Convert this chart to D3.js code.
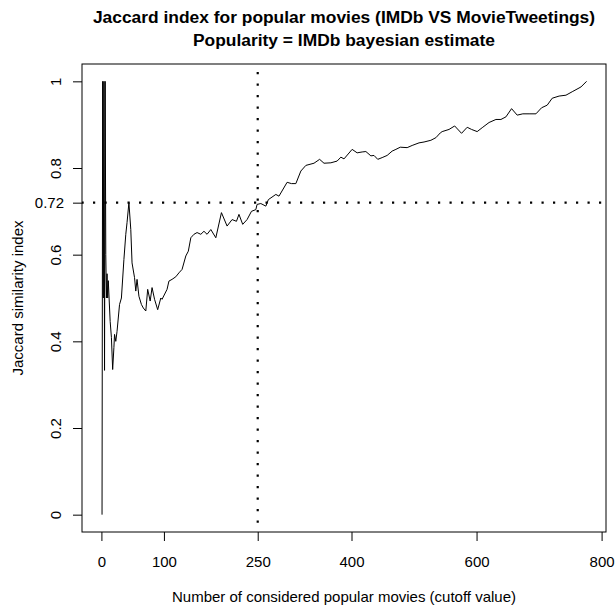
<!DOCTYPE html>
<html>
<head>
<meta charset="utf-8">
<script src="https://cdn.jsdelivr.net/npm/d3@7"></script>
<style>
	body { margin: 0; background: #fff; }
	svg text { font-family: "Liberation Sans", Arial, Helvetica, sans-serif; fill: #000; }
</style>
</head>
<body>
<svg width="615" height="606"></svg>
<script>
// Cutoff values (number of popular movies considered)
var cutoffs = [
	1, 2, 3, 4, 5, 6, 7, 8, 9, 10, 11, 14, 16, 18, 20, 21, 23, 25, 29, 32,
	36, 39, 41, 44, 47, 49, 53, 55, 57, 60, 64, 67, 71, 74, 78, 81, 85, 90, 95, 97,
	105, 108, 113, 119, 124, 129, 135, 139, 143, 148, 153, 159, 164, 169, 175, 183, 192, 201, 209, 216,
	220, 226, 233, 240, 247, 249, 255, 263, 267, 279, 284, 297, 304, 311, 319, 327, 340, 349, 356, 367,
	377, 383, 388, 401, 409, 417, 423, 431, 436, 442, 449, 457, 465, 471, 478, 489, 497, 508, 516, 527,
	535, 542, 545, 556, 565, 576, 585, 592, 601, 609, 620, 631, 639, 647, 656, 665, 674, 684, 695, 704,
	713, 721, 732, 743, 753, 767, 776
];
// Jaccard similarity index at each cutoff
var jaccard = [
	0, 1, 0.5, 1, 0.333, 1, 0.6, 0.5, 0.556, 0.5, 0.54, 0.446, 0.409, 0.335, 0.386, 0.416, 0.4, 0.423, 0.485, 0.5,
	0.589, 0.647, 0.674, 0.72, 0.658, 0.581, 0.547, 0.516, 0.543, 0.504, 0.485, 0.477, 0.47, 0.52, 0.493, 0.524, 0.497, 0.473, 0.5, 0.497,
	0.52, 0.539, 0.543, 0.549, 0.558, 0.566, 0.597, 0.608, 0.639, 0.647, 0.651, 0.647, 0.654, 0.647, 0.658, 0.639, 0.697, 0.666, 0.681, 0.677,
	0.693, 0.67, 0.681, 0.7, 0.704, 0.716, 0.718, 0.712, 0.727, 0.739, 0.735, 0.767, 0.764, 0.764, 0.793, 0.806, 0.811, 0.82, 0.811, 0.812,
	0.816, 0.825, 0.821, 0.843, 0.835, 0.837, 0.838, 0.828, 0.829, 0.82, 0.824, 0.829, 0.839, 0.843, 0.848, 0.847, 0.852, 0.858, 0.86, 0.864,
	0.87, 0.881, 0.884, 0.889, 0.897, 0.88, 0.894, 0.889, 0.884, 0.893, 0.905, 0.912, 0.912, 0.918, 0.937, 0.922, 0.925, 0.925, 0.925, 0.939,
	0.945, 0.961, 0.966, 0.968, 0.976, 0.987, 1
];
var x_ticks = [0, 100, 250, 400, 600, 800];
var y_ticks = [0, 0.2, 0.4, 0.6, 0.8, 1];
var cutoff_mark = 250;
var jaccard_mark = 0.72;

var title_lines = ['Jaccard index for popular movies (IMDb VS MovieTweetings)', 'Popularity = IMDb bayesian estimate'];
var x_title = 'Number of considered popular movies (cutoff value)';
var y_title = 'Jaccard similarity index';

// Plot region
var plot_left = 82, plot_right = 606, plot_top = 64, plot_bottom = 532;
var tick_len = 9;
var font_size = 15;
var title_size = 17.4;

var svg = d3.select('svg');

// R style axis extension (4% on each side)
function extend(ext)
{
	var r = ext[1] - ext[0];
	return [ext[0] - 0.04 * r, ext[1] + 0.04 * r];
}
var x = d3.scaleLinear().domain(extend([0, d3.max(cutoffs)])).range([plot_left, plot_right]);
var y = d3.scaleLinear().domain(extend([0, 1])).range([plot_bottom, plot_top]);

var points = cutoffs.map((c, i) => [c, jaccard[i]]);

// Reference lines
svg.append('clipPath').attr('id', 'plot_clip')
	.append('rect')
	.attr('x', plot_left).attr('y', plot_top)
	.attr('width', plot_right - plot_left).attr('height', plot_bottom - plot_top);
var refs = svg.append('g').attr('clip-path', 'url(#plot_clip)');
refs.append('line')
	.attr('x1', plot_left).attr('x2', plot_right)
	.attr('y1', y(jaccard_mark)).attr('y2', y(jaccard_mark))
	.attr('stroke', '#000').attr('stroke-width', 2.2)
	.attr('stroke-dasharray', '2.2 9.3').attr('stroke-dashoffset', -11);
refs.append('line')
	.attr('x1', x(cutoff_mark)).attr('x2', x(cutoff_mark))
	.attr('y1', plot_top).attr('y2', plot_bottom)
	.attr('stroke', '#000').attr('stroke-width', 2.2)
	.attr('stroke-dasharray', '2.2 9.3').attr('stroke-dashoffset', -8);

// Series
svg.append('path')
	.datum(points)
	.attr('fill', 'none')
	.attr('stroke', '#000')
	.attr('stroke-width', 1)
	.attr('stroke-linejoin', 'round')
	.attr('d', d3.line().x(d => x(d[0])).y(d => y(d[1])));

// Box
svg.append('rect')
	.attr('x', plot_left).attr('y', plot_top)
	.attr('width', plot_right - plot_left).attr('height', plot_bottom - plot_top)
	.attr('fill', 'none').attr('stroke', '#000').attr('stroke-width', 1);

// X axis
var x_axis = svg.append('g')
	.attr('transform', 'translate(0,' + plot_bottom + ')')
	.call(d3.axisBottom(x).tickValues(x_ticks).tickSize(tick_len).tickFormat(d => String(d)));
x_axis.select('.domain').remove();
x_axis.selectAll('line').attr('stroke', '#000');
x_axis.selectAll('text')
	.attr('y', 35).attr('dy', 0)
	.style('font-size', font_size + 'px');

// Y axis, labels parallel to the axis
var y_axis = svg.append('g')
	.attr('transform', 'translate(' + plot_left + ',0)')
	.call(d3.axisLeft(y).tickValues(y_ticks).tickSize(tick_len).tickFormat(d => String(d)));
y_axis.select('.domain').remove();
y_axis.selectAll('line').attr('stroke', '#000');
y_axis.selectAll('text')
	.attr('x', 0).attr('dy', 0)
	.attr('text-anchor', 'middle')
	.attr('transform', 'translate(-21,0) rotate(-90)')
	.style('font-size', font_size + 'px');

// Extra tick for the marked index, horizontal label
var y_mark = svg.append('g')
	.attr('transform', 'translate(' + plot_left + ',0)')
	.call(d3.axisLeft(y).tickValues([jaccard_mark]).tickSize(tick_len).tickFormat(d => String(d)));
y_mark.select('.domain').remove();
y_mark.selectAll('line').attr('stroke', '#000');
y_mark.selectAll('text')
	.attr('x', -18).attr('dy', '0.35em')
	.attr('text-anchor', 'end')
	.style('font-size', font_size + 'px');

// Titles
var cx = (plot_left + plot_right) / 2;
svg.append('text')
	.attr('x', cx).attr('y', 23)
	.attr('text-anchor', 'middle')
	.style('font-size', title_size + 'px').style('font-weight', 'bold')
	.text(title_lines[0]);
svg.append('text')
	.attr('x', cx).attr('y', 46)
	.attr('text-anchor', 'middle')
	.style('font-size', title_size + 'px').style('font-weight', 'bold')
	.text(title_lines[1]);
svg.append('text')
	.attr('x', cx).attr('y', 602)
	.attr('text-anchor', 'middle')
	.style('font-size', font_size + 'px')
	.text(x_title);
svg.append('text')
	.attr('transform', 'translate(23,' + ((plot_top + plot_bottom) / 2) + ') rotate(-90)')
	.attr('text-anchor', 'middle')
	.style('font-size', font_size + 'px')
	.text(y_title);
</script>
</body>
</html>
